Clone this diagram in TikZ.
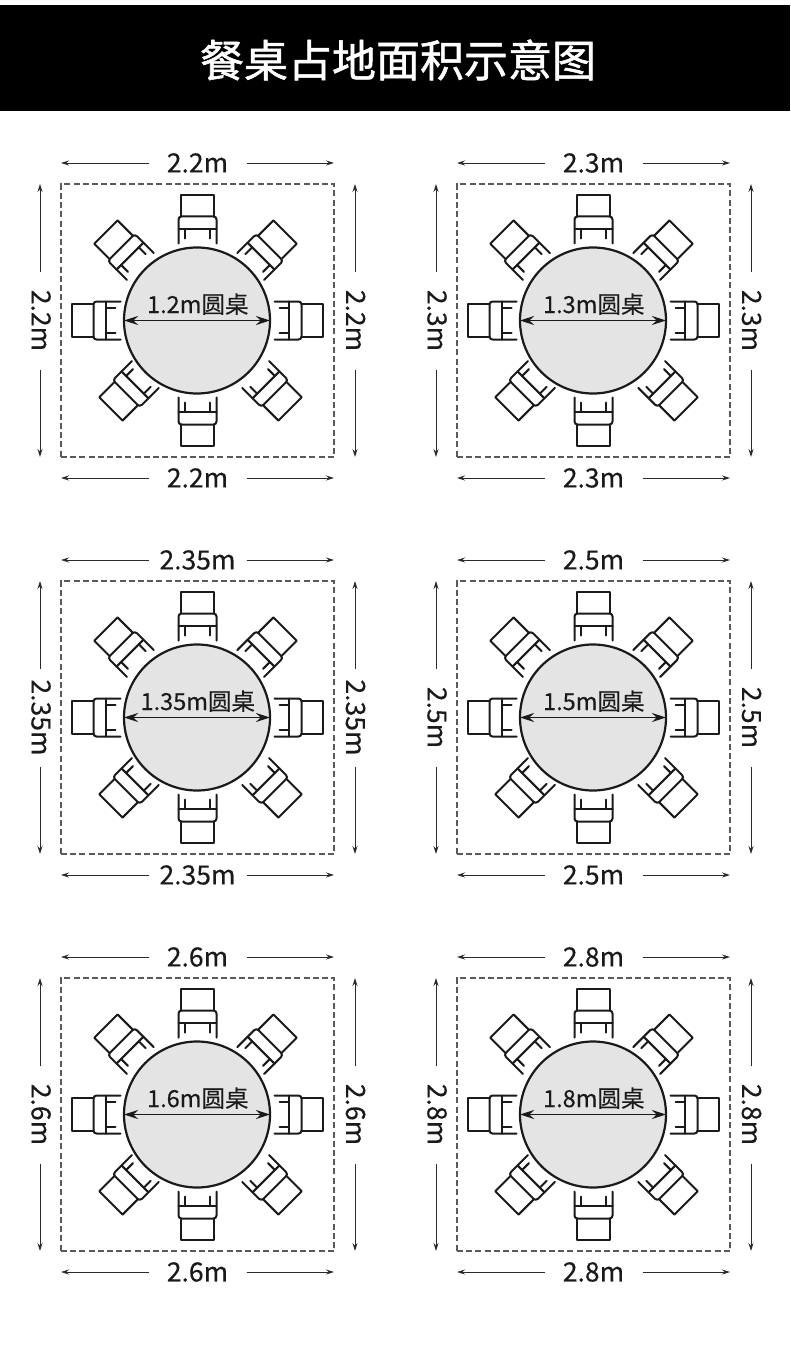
\documentclass[tikz,border=0pt]{standalone}
\usepackage{fontspec}
\newfontfamily\cjk{Noto Sans CJK SC}
\newfontfamily\cjktitle[FakeBold=1.2]{Noto Sans CJK SC}
\newfontfamily\cjklabel[FakeBold=0.3]{Noto Sans CJK SC}
\usetikzlibrary{arrows.meta}
\definecolor{ink}{HTML}{1A1A1A}
\definecolor{dimcol}{HTML}{2A2A2A}
\definecolor{tablefill}{HTML}{E4E4E4}
\definecolor{dashcol}{HTML}{5A5A5A}
\tikzset{
  dimline/.style={draw=dimcol,line width=0.9pt,-{Stealth[length=8pt,width=5pt]}},
  dimlabel/.style={text=ink,inner sep=0pt,outer sep=0pt,font=\cjklabel\fontsize{26.5}{27}\selectfont},
  tablelabel/.style={text=ink,inner sep=0pt,outer sep=0pt,font=\cjklabel\fontsize{23.5}{24}\selectfont},
  areabox/.style={draw=dashcol,line width=1.5pt,dash pattern=on 6pt off 3.2pt,minimum size=273pt,inner sep=0pt,outer sep=0pt},
  roundtable/.style={circle,draw=ink,fill=tablefill,line width=2.2pt,minimum size=146pt,inner sep=0pt,outer sep=0pt},
  chairline/.style={draw=ink,line width=2pt,line join=round,line cap=round},
  tablearrow/.style={draw=ink,line width=1.3pt,{Stealth[length=14pt,width=9pt]}-{Stealth[length=14pt,width=9pt]}},
}
\newcommand{\seat}[3]{%
  \begin{scope}[shift={(#2,#3)},rotate=#1]
    \draw[chairline] (-16.5,-104) -- (-16.5,-125.7) -- (16.5,-125.7) -- (16.5,-104);
    \draw[chairline,rounded corners=3pt] (-19,-77) -- (-19,-104) -- (19,-104) -- (19,-77);
    \draw[chairline] (-19,-91.7) -- (19,-91.7);
    \draw[chairline] (-12.5,-91.7) -- (-12.5,-82);
    \draw[chairline] (12.5,-91.7) -- (12.5,-82);
  \end{scope}}
\newcommand{\panel}[4]{% cx, cy, size, table
  \begin{scope}[shift={(#1,#2)}]
    \node[areabox] (area) at (0,0) {};
    \seat{0}{0}{0}
    \seat{180}{0}{0}
    \seat{90}{0}{0}
    \seat{-90}{0}{0}
    \seat{45}{-2.7}{0.5}
    \seat{-45}{-1.3}{0.5}
    \seat{135}{2.3}{-0.5}
    \seat{-135}{3.7}{-0.5}
    \node[roundtable] (tbl) at (-0.5,0) {};
    \draw[tablearrow] (tbl.west) -- (tbl.east);
    \node[tablelabel] (tbllabel) at (0.3,-16.4) {#4圆桌};
    % dimension labels
    \node[dimlabel] (top) at (0,-157.5) {#3};
    \node[dimlabel] (bot) at (0,157.5) {#3};
    \node[dimlabel,rotate=-90] (lft) at (-156.5,0) {#3};
    \node[dimlabel,rotate=-90] (rgt) at (158,0) {#3};
    % dimension line ends
    \coordinate (tl) at (-49,-157.5); \coordinate (tle) at (-136.5,-157.5);
    \coordinate (tr) at (49,-157.5);  \coordinate (tre) at (136.5,-157.5);
    \coordinate (bl) at (-49,157.5);  \coordinate (ble) at (-136.5,157.5);
    \coordinate (br) at (49,157.5);   \coordinate (bre) at (136.5,157.5);
    \coordinate (lt) at (-157.5,-49); \coordinate (lte) at (-157.5,-136.5);
    \coordinate (lb) at (-157.5,49);  \coordinate (lbe) at (-157.5,136.5);
    \coordinate (rt) at (157.5,-49);  \coordinate (rte) at (157.5,-136.5);
    \coordinate (rb) at (157.5,49);   \coordinate (rbe) at (157.5,136.5);
    \foreach \a/\b in {tl/tle,tr/tre,bl/ble,br/bre,lt/lte,lb/lbe,rt/rte,rb/rbe}
      \draw[dimline] (\a) -- (\b);
  \end{scope}}
\begin{document}
\begin{tikzpicture}[x=1pt,y=-1pt]
  \useasboundingbox (0,0) rectangle (790,1356);
  \fill[white] (0,0) rectangle (790,1356);
  \fill[black] (0,5.5) rectangle (790,111);
  \node[text=white,inner sep=0pt,font=\cjktitle\fontsize{44}{44}\selectfont] (title) at (398,60) {餐桌占地面积示意图};
  \panel{197.5}{320.5}{2.2m}{1.2m}
  \panel{593.5}{320.5}{2.3m}{1.3m}
  \panel{197.5}{717.5}{2.35m}{1.35m}
  \panel{593.5}{717.5}{2.5m}{1.5m}
  \panel{197.5}{1114.5}{2.6m}{1.6m}
  \panel{593.5}{1114.5}{2.8m}{1.8m}
\end{tikzpicture}
\end{document}
